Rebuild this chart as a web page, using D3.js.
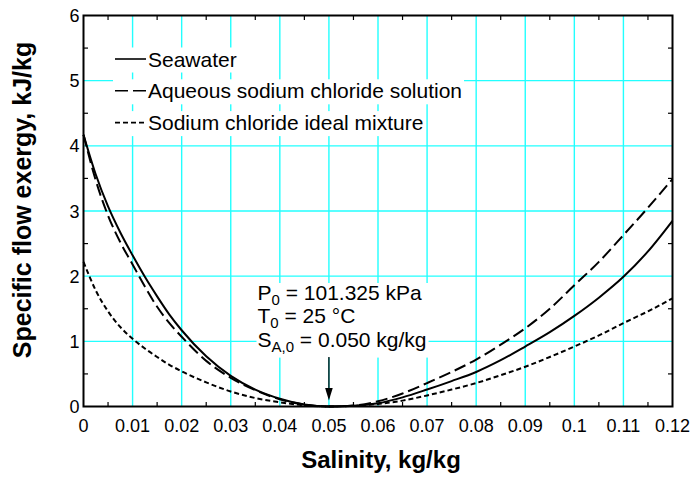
<!DOCTYPE html>
<html>
<head>
<meta charset="utf-8">
<script src="https://cdn.jsdelivr.net/npm/d3@7"></script>
<style>
  body { margin: 0; background: #fff; }
  svg text { font-family: "Liberation Sans", Arial, sans-serif; fill: #000; }
</style>
</head>
<body>
<div id="chart"></div>
<script>
// Specific flow exergy vs salinity
const salinity = [0, 0.0025, 0.005, 0.0075, 0.01, 0.0125, 0.015, 0.0175, 0.02, 0.025, 0.03, 0.035, 0.04, 0.045,
    0.05, 0.055, 0.06, 0.065, 0.07, 0.075, 0.08, 0.085, 0.09, 0.095, 0.1, 0.105, 0.11, 0.115, 0.12];
const seawater = [4.17, 3.56, 3.07, 2.67, 2.32, 1.99, 1.69, 1.41, 1.17, 0.77, 0.47, 0.26, 0.12, 0.03,
    0, 0.01, 0.05, 0.14, 0.26, 0.39, 0.53, 0.71, 0.92, 1.14, 1.39, 1.67, 1.99, 2.38, 2.85];
const aqueousNaCl = [4.17, 3.47, 2.93, 2.52, 2.18, 1.84, 1.53, 1.28, 1.07, 0.70, 0.44, 0.25, 0.11, 0.03,
    0, 0.015, 0.08, 0.20, 0.36, 0.53, 0.72, 0.95, 1.20, 1.50, 1.86, 2.22, 2.63, 3.05, 3.49];
const idealNaCl = [2.22, 1.78, 1.46, 1.22, 1.04, 0.89, 0.76, 0.64, 0.54, 0.37, 0.23, 0.13, 0.065, 0.017,
    0, 0.008, 0.04, 0.09, 0.17, 0.26, 0.36, 0.48, 0.61, 0.76, 0.92, 1.09, 1.28, 1.46, 1.66];

const seriesNames = ["Seawater", "Aqueous sodium chloride solution", "Sodium chloride ideal mixture"];
const seriesDash = [null, "12,5", "5,3"];
const legendDash = [null, "13,5", "5,3"];

const xTicks = [0, 0.01, 0.02, 0.03, 0.04, 0.05, 0.06, 0.07, 0.08, 0.09, 0.1, 0.11, 0.12];
const xTickLabels = ["0", "0.01", "0.02", "0.03", "0.04", "0.05", "0.06", "0.07", "0.08", "0.09", "0.1", "0.11", "0.12"];
const yTicks = [0, 1, 2, 3, 4, 5, 6];
const xMinor = [0.005, 0.015, 0.025, 0.035, 0.045, 0.055, 0.065, 0.075, 0.085, 0.095, 0.105, 0.115];
const yMinor = [0.5, 1.5, 2.5, 3.5, 4.5, 5.5];

const refSalinity = 0.05;

const width = 692, height = 477;
const margin = { top: 15.5, right: 19.5, bottom: 70.5, left: 83.5 };

const svg = d3.select("#chart").append("svg")
    .attr("width", width)
    .attr("height", height);

const x = d3.scaleLinear().domain([0, 0.12]).range([margin.left, width - margin.right]);
const y = d3.scaleLinear().domain([0, 6]).range([height - margin.bottom, margin.top]);

// grid
const grid = svg.append("g").attr("stroke", "#22ffff").attr("stroke-width", 1.4);
grid.selectAll(".gx").data(xTicks.slice(1, -1)).enter().append("line")
    .attr("x1", d => x(d)).attr("x2", d => x(d))
    .attr("y1", y(0)).attr("y2", y(6));
grid.selectAll(".gy").data(yTicks.slice(1, -1)).enter().append("line")
    .attr("x1", x(0)).attr("x2", x(0.12))
    .attr("y1", d => y(d)).attr("y2", d => y(d));

// curves
const allSeries = [seawater, aqueousNaCl, idealNaCl];
const line = d3.line()
    .x(d => x(d[0]))
    .y(d => y(d[1]))
    .curve(d3.curveMonotoneX);

svg.append("g").selectAll("path").data(allSeries).enter().append("path")
    .attr("d", s => line(salinity.map((v, i) => [v, s[i]])))
    .attr("fill", "none")
    .attr("stroke", "#000")
    .attr("stroke-width", 2)
    .attr("stroke-dasharray", (d, i) => seriesDash[i]);

// legend
const legend = svg.append("g");
const legendX = 115, legendY0 = 66.5, legendStep = 31.8;
seriesNames.forEach((name, i) => {
    const g = legend.append("g").attr("transform", `translate(${legendX},${legendY0 + i * legendStep})`);
    const bg = g.append("rect").attr("fill", "#fff");
    g.append("line")
        .attr("x1", 0).attr("x2", 31)
        .attr("y1", -7.5).attr("y2", -7.5)
        .attr("stroke", "#000").attr("stroke-width", 1.6)
        .attr("stroke-dasharray", legendDash[i]);
    const t = g.append("text").attr("x", 33).attr("y", 0)
        .style("font-size", "21px").text(name);
    const w = t.node().getComputedTextLength();
    bg.attr("x", -2).attr("y", -19).attr("width", 33 + w + 4).attr("height", 25);
});

// annotation
const note = svg.append("g");
const noteBg = note.append("rect").attr("fill", "#fff");
const noteLines = [
    ["P", "0", " = 101.325 kPa"],
    ["T", "0", " = 25 °C"],
    ["S", "A,0", " = 0.050 kg/kg"]
];
const noteX = 257.5, noteY0 = 300, noteStep = 23.3;
noteLines.forEach((parts, i) => {
    const t = note.append("text").attr("x", noteX).attr("y", noteY0 + i * noteStep)
        .style("font-size", "21px");
    t.append("tspan").text(parts[0]);
    t.append("tspan").attr("dy", 5).style("font-size", "15px").text(parts[1]);
    t.append("tspan").attr("dy", -5).text(parts[2]);
});
const nb = note.node().getBBox();
noteBg.attr("x", nb.x - 1).attr("y", nb.y + 2).attr("width", nb.width + 3).attr("height", nb.height + 1);

// arrow to reference salinity
const ax = x(refSalinity);
svg.append("line")
    .attr("x1", ax).attr("x2", ax)
    .attr("y1", 357).attr("y2", 390)
    .attr("stroke", "#000").attr("stroke-width", 1.3);
svg.append("path")
    .attr("d", `M${ax - 3.8},388 L${ax + 3.8},388 L${ax},${y(0) - 6} Z`)
    .attr("fill", "#000");

// frame
svg.append("rect")
    .attr("x", x(0)).attr("y", y(6))
    .attr("width", x(0.12) - x(0)).attr("height", y(0) - y(6))
    .attr("fill", "none").attr("stroke", "#000").attr("stroke-width", 2);

// minor ticks (inward, all four sides)
const ticks = svg.append("g").attr("stroke", "#000").attr("stroke-width", 1.2);
xMinor.forEach(v => {
    ticks.append("line").attr("x1", x(v)).attr("x2", x(v)).attr("y1", y(0)).attr("y2", y(0) - 4.5);
    ticks.append("line").attr("x1", x(v)).attr("x2", x(v)).attr("y1", y(6)).attr("y2", y(6) + 4.5);
});
yMinor.forEach(v => {
    ticks.append("line").attr("x1", x(0)).attr("x2", x(0) + 4.5).attr("y1", y(v)).attr("y2", y(v));
    ticks.append("line").attr("x1", x(0.12)).attr("x2", x(0.12) - 4.5).attr("y1", y(v)).attr("y2", y(v));
});

// tick labels
svg.append("g").selectAll("text").data(xTicks).enter().append("text")
    .attr("x", d => x(d))
    .attr("y", 432)
    .attr("text-anchor", "middle")
    .style("font-size", "18px")
    .text((d, i) => xTickLabels[i]);

svg.append("g").selectAll("text").data(yTicks).enter().append("text")
    .attr("x", x(0) - 4)
    .attr("y", d => y(d) + 6.5)
    .attr("text-anchor", "end")
    .style("font-size", "18px")
    .text(d => d);

// axis titles
svg.append("text")
    .attr("x", (x(0) + x(0.12)) / 2 + 3)
    .attr("y", 468)
    .attr("text-anchor", "middle")
    .style("font-size", "24px")
    .style("font-weight", "bold")
    .text("Salinity, kg/kg");

svg.append("text")
    .attr("transform", `translate(31,${200}) rotate(-90)`)
    .attr("text-anchor", "middle")
    .style("font-size", "25px")
    .style("font-weight", "bold")
    .text("Specific flow exergy, kJ/kg");
</script>
</body>
</html>
